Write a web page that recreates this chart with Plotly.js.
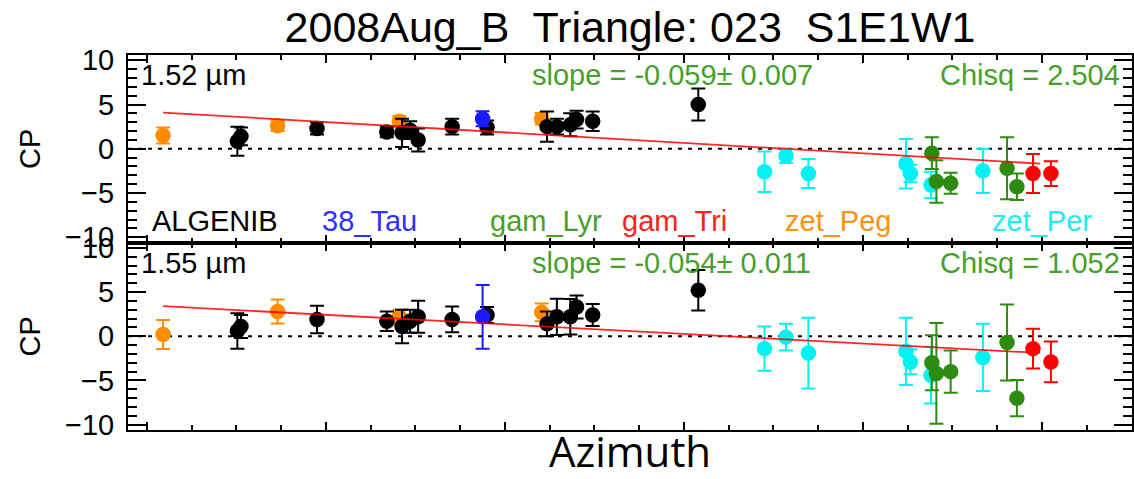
<!DOCTYPE html>
<html>
<head>
<meta charset="utf-8">
<script src="https://cdn.plot.ly/plotly-3.0.1.min.js"></script>
<style>
  html, body { margin: 0; padding: 0; background: #fff; }
  #chart { width: 1134px; height: 479px; }
</style>
</head>
<body>
<div id="chart"></div>
<script>
// Closure phase (CP) versus azimuth for triangle 023 (S1E1W1), two wavelength channels.
// Azimuth positions are shared by both channels; CP values and errors differ.

const stars = ["ALGENIB", "38_Tau", "gam_Lyr", "gam_Tri", "zet_Peg", "zet_Per"];
const starColors = {
  ALGENIB: "#000000", "38_Tau": "#1a1aff", gam_Lyr: "#2e8b12",
  gam_Tri: "#ff0000", zet_Peg: "#ff8c00", zet_Per: "#00f2f2"
};
const labelColors = {
  ALGENIB: "#000000", "38_Tau": "#3030ff", gam_Lyr: "#47a02a",
  gam_Tri: "#ff2020", zet_Peg: "#ff9010", zet_Per: "#20eeee"
};

// azimuth of each observation, per star
const azALGENIB = [10.1, 10.5, 19.0, 26.8, 28.5, 29.4, 30.3, 34.1, 38.0, 44.7, 45.8, 47.3, 48.0, 49.8, 61.6];
const az38Tau   = [37.5];
const azGamLyr  = [87.7, 88.2, 89.8, 96.1, 97.2];
const azGamTri  = [99.0, 101.0];
const azZetPeg  = [1.8, 14.6, 28.2, 44.1];
const azZetPer  = [69.0, 71.4, 73.9, 84.8, 85.3, 87.6, 93.4];

// 1.52 um channel
const cp152ALGENIB  = [0.85, 1.4, 2.3, 1.9, 1.8, 2.1, 1.0, 2.5, 2.4, 2.5, 2.5, 2.7, 3.3, 3.1, 5.0];
const err152ALGENIB = [1.65, 1.0, 0.7, 0.6, 1.6, 1.0, 1.3, 0.9, 0.8, 1.7, 0.9, 1.3, 1.0, 1.1, 1.8];
const cp15238Tau    = [3.4];
const err15238Tau   = [0.85];
const cp152GamLyr   = [-0.5, -3.7, -3.9, -2.2, -4.3];
const err152GamLyr  = [1.8, 2.4, 1.2, 3.5, 1.5];
const cp152GamTri   = [-2.8, -2.8];
const err152GamTri  = [2.2, 1.4];
const cp152ZetPeg   = [1.5, 2.6, 3.1, 3.4];
const err152ZetPeg  = [0.9, 0.6, 0.6, 0.65];
const cp152ZetPer   = [-2.6, -0.8, -2.8, -1.7, -2.8, -4.1, -2.5];
const err152ZetPer  = [2.3, 0.8, 1.65, 2.8, 1.0, 1.5, 2.5];

// 1.55 um channel
const cp155ALGENIB  = [0.6, 1.1, 1.9, 1.7, 1.1, 1.7, 2.2, 1.9, 2.4, 1.4, 2.2, 2.2, 3.3, 2.4, 5.2];
const err155ALGENIB = [2.0, 1.3, 1.55, 1.1, 1.9, 1.3, 1.8, 1.45, 0.9, 1.4, 2.05, 2.0, 1.3, 1.25, 2.3];
const cp15538Tau    = [2.2];
const err15538Tau   = [3.6];
const cp155GamLyr   = [-3.0, -4.2, -4.0, -0.7, -7.0];
const err155GamLyr  = [3.1, 5.7, 2.4, 4.3, 2.05];
const cp155GamTri   = [-1.4, -2.9];
const err155GamTri  = [2.25, 2.3];
const cp155ZetPeg   = [0.2, 2.8, 2.2, 2.7];
const err155ZetPeg  = [1.65, 1.35, 0.8, 1.0];
const cp155ZetPer   = [-1.4, -0.1, -1.9, -1.7, -2.9, -4.4, -2.4];
const err155ZetPer  = [2.5, 1.5, 4.0, 3.8, 1.4, 3.2, 3.8];

// linear fits
const wavelengths = ["1.52 µm", "1.55 µm"];
const fitSlope = [-0.059, -0.054];
const fitSlopeErr = ["0.007", "0.011"];
const fitIntercept = [4.2, 3.5];
const fitChisq = ["2.504", "1.052"];
const fitAzRange = [1.8, 99.8];

const azByStar = {
  ALGENIB: azALGENIB, "38_Tau": az38Tau, gam_Lyr: azGamLyr,
  gam_Tri: azGamTri, zet_Peg: azZetPeg, zet_Per: azZetPer
};
const panels = [
  {
    cp: { ALGENIB: cp152ALGENIB, "38_Tau": cp15238Tau, gam_Lyr: cp152GamLyr, gam_Tri: cp152GamTri, zet_Peg: cp152ZetPeg, zet_Per: cp152ZetPer },
    err: { ALGENIB: err152ALGENIB, "38_Tau": err15238Tau, gam_Lyr: err152GamLyr, gam_Tri: err152GamTri, zet_Peg: err152ZetPeg, zet_Per: err152ZetPer },
    xa: "x", ya: "y"
  },
  {
    cp: { ALGENIB: cp155ALGENIB, "38_Tau": cp15538Tau, gam_Lyr: cp155GamLyr, gam_Tri: cp155GamTri, zet_Peg: cp155ZetPeg, zet_Per: cp155ZetPer },
    err: { ALGENIB: err155ALGENIB, "38_Tau": err15538Tau, gam_Lyr: err155GamLyr, gam_Tri: err155GamTri, zet_Peg: err155ZetPeg, zet_Per: err155ZetPer },
    xa: "x2", ya: "y2"
  }
];

const FONT = "Liberation Sans, Arial, Helvetica, sans-serif";
const GREEN_TEXT = "#47a02a";

const traces = [];
panels.forEach((p, i) => {
  ["zet_Per", "gam_Lyr", "gam_Tri", "zet_Peg", "ALGENIB", "38_Tau"].forEach(s => {
    traces.push({
      type: "scatter", mode: "markers",
      x: azByStar[s], y: p.cp[s],
      xaxis: p.xa, yaxis: p.ya,
      name: s, showlegend: false,
      marker: { color: starColors[s], size: 15.5, line: { width: 0 } },
      error_y: { type: "data", array: p.err[s], visible: true,
                 color: starColors[s], thickness: 2, width: 7 }
    });
  });
  const fx = fitAzRange;
  traces.push({
    type: "scatter", mode: "lines",
    x: fx, y: fx.map(a => fitIntercept[i] + fitSlope[i] * a),
    xaxis: p.xa, yaxis: p.ya, showlegend: false,
    line: { color: "rgba(255,0,0,0.85)", width: 1.8 }
  });
});

const yCommon = {
  range: [-10.6, 10.6], dtick: 5, tick0: 0,
  ticks: "inside", ticklen: 18, tickwidth: 2, tickcolor: "#000",
  minor: { dtick: 1, ticks: "inside", ticklen: 9, tickwidth: 2, tickcolor: "#000" },
  showline: true, linewidth: 2, linecolor: "#000", mirror: "ticks",
  showgrid: false, zeroline: false,
  tickfont: { family: FONT, size: 29, color: "#000" },
  ticklabelstandoff: 6,
  title: { text: "CP", font: { family: FONT, size: 29, color: "#000" }, standoff: 16 },
  automargin: false, fixedrange: true
};
const xCommon = {
  range: [-2.12, 110.06], dtick: 20, tick0: 0,
  ticks: "inside", ticklen: 8, tickwidth: 2, tickcolor: "#000",
  minor: { dtick: 5, ticks: "inside", ticklen: 5, tickwidth: 2, tickcolor: "#000" },
  showline: true, linewidth: 2, linecolor: "#000", mirror: "ticks",
  showgrid: false, zeroline: false, showticklabels: false,
  automargin: false, fixedrange: true
};

const annotations = [];
const rowY = [0.9467, 0.4453];
wavelengths.forEach((w, i) => {
  annotations.push({ xref: "paper", yref: "paper", x: 0.0105, y: rowY[i], xanchor: "left", yanchor: "middle",
    text: w, showarrow: false, font: { family: FONT, size: 29, color: "#000" } });
  annotations.push({ xref: "paper", yref: "paper", x: 0.4, y: rowY[i], xanchor: "left", yanchor: "middle",
    text: "slope = " + fitSlope[i].toFixed(3) + "± " + fitSlopeErr[i], showarrow: false,
    font: { family: FONT, size: 29, color: GREEN_TEXT } });
  annotations.push({ xref: "paper", yref: "paper", x: 0.990, y: rowY[i], xanchor: "right", yanchor: "middle",
    text: "Chisq = " + fitChisq[i], showarrow: false,
    font: { family: FONT, size: 29, color: GREEN_TEXT } });
});
const starLabelX = [0.0219, 0.1912, 0.3586, 0.490, 0.6524, 0.8586];
stars.forEach((s, k) => {
  annotations.push({ xref: "paper", yref: "paper", x: starLabelX[k], y: 0.556, xanchor: "left", yanchor: "middle",
    text: s, showarrow: false, font: { family: FONT, size: 29, color: labelColors[s] } });
});

const zeroLine = (xr, yr) => ({
  type: "line", xref: xr + " domain", yref: yr, x0: 0, x1: 1, y0: 0, y1: 0,
  line: { color: "#000", width: 2, dash: "4px,6px" }, layer: "below"
});

const layout = {
  width: 1134, height: 479,
  margin: { l: 128, r: 2, t: 55, b: 49, pad: 0 },
  paper_bgcolor: "#fff", plot_bgcolor: "#fff",
  showlegend: false,
  title: { text: "2008Aug_B  Triangle: 023  S1E1W1",
           font: { family: FONT, size: 43, color: "#000" },
           xref: "paper", x: 0.5, xanchor: "center",
           yref: "container", y: 0.944, yanchor: "middle" },
  xaxis: Object.assign({}, xCommon, { anchor: "y", domain: [0, 1] }),
  yaxis: Object.assign({}, yCommon, { anchor: "x", domain: [0.5, 1] }),
  xaxis2: Object.assign({}, xCommon, { anchor: "y2", domain: [0, 1], matches: "x",
    title: { text: "Azimuth", font: { family: "Open Sans, sans-serif", size: 42, color: "#000" }, standoff: 9 } }),
  yaxis2: Object.assign({}, yCommon, { anchor: "x2", domain: [0, 0.5] }),
  shapes: [zeroLine("x", "y"), zeroLine("x2", "y2")],
  annotations: annotations
};

Plotly.newPlot("chart", traces, layout, { staticPlot: true, displayModeBar: false });
</script>
</body>
</html>
